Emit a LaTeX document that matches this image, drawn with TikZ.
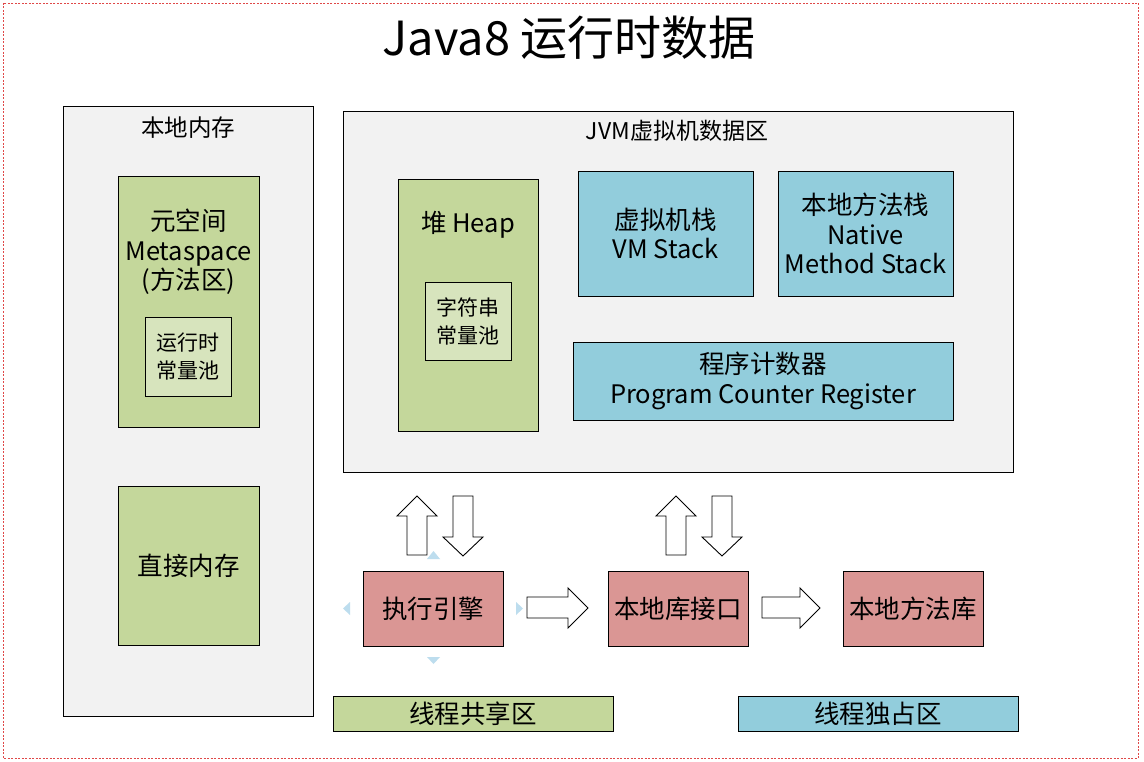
\documentclass[tikz,border=0pt]{standalone}
\usepackage{fontspec}
\setmainfont{Noto Sans CJK SC}
\definecolor{gbox}{HTML}{C4D79B}
\definecolor{gin}{HTML}{D7E4BD}
\definecolor{bbox}{HTML}{92CDDC}
\definecolor{rbox}{HTML}{DA9694}
\definecolor{area}{HTML}{F2F2F2}
\definecolor{frame}{HTML}{E04848}
\definecolor{handle}{HTML}{BDDDEE}
\tikzset{
  box/.style={draw=black, line width=0.9pt, inner sep=0pt, align=center},
  areabox/.style={box, fill=area},
  greenbox/.style={box, fill=gbox},
  innerbox/.style={box, fill=gin, font=\fontsize{21}{28}\selectfont},
  bluebox/.style={box, fill=bbox, font=\fontsize{25.5}{29.5}\selectfont},
  redbox/.style={box, fill=rbox, font=\fontsize{25.5}{29.5}\selectfont},
  lbl/.style={inner sep=0pt, align=center},
  blockarrow/.style={draw=black, line width=0.9pt, fill=white},
  handletri/.style={fill=handle, draw=none}
}
\begin{document}
\begin{tikzpicture}[x=1pt,y=-1pt]
\useasboundingbox (0,0) rectangle (1144,762);
\fill[white] (0,0) rectangle (1144,762);
\draw[frame, dashed, line width=0.7pt, dash pattern=on 2pt off 1.5pt] (3,3) rectangle (1138,758);

\node[lbl, font=\fontsize{47}{50}\selectfont] (title) at (569,38) {Java8 运行时数据};

% native memory
\node[areabox, minimum width=250, minimum height=610] (mem) at (188,411) {};
\node[lbl, font=\fontsize{23.5}{26}\selectfont] (memlbl) at (188,128) {本地内存};
\node[greenbox, minimum width=141, minimum height=251] (meta) at (188.5,301.5) {};
\node[lbl, font=\fontsize{25.5}{29.5}\selectfont] (metalbl) at (188.5,252) {元空间\\Metaspace\\(方法区)};
\node[innerbox, minimum width=86, minimum height=79] (rcp) at (188,356.5) {运行时\\常量池};
\node[greenbox, minimum width=141, minimum height=159, font=\fontsize{25.5}{29.5}\selectfont] (direct) at (188.5,565.5) {直接内存};

% JVM area
\node[areabox, minimum width=670, minimum height=361] (jvm) at (678,291.5) {};
\node[lbl, font=\fontsize{23}{26}\selectfont] (jvmlbl) at (677,131) {JVM虚拟机数据区};
\node[greenbox, minimum width=140, minimum height=252] (heap) at (468,305) {};
\node[lbl, font=\fontsize{25.5}{29.5}\selectfont] (heaplbl) at (468,225) {堆 Heap};
\node[innerbox, minimum width=86, minimum height=78] (scp) at (468,321) {字符串\\常量池};
\node[bluebox, minimum width=175, minimum height=125] (vms) at (665.5,233.5) {虚拟机栈\\VM Stack};
\node[bluebox, minimum width=175, minimum height=125] (nms) at (865.5,233.5) {本地方法栈\\Native\\Method Stack};
\node[bluebox, minimum width=380, minimum height=78] (pc) at (763,381) {程序计数器\\Program Counter Register};

% execution
\node[redbox, minimum width=140, minimum height=75] (exe) at (433,608.5) {执行引擎};
\node[redbox, minimum width=140, minimum height=75] (nli) at (678,608.5) {本地库接口};
\node[redbox, minimum width=140, minimum height=75] (nml) at (913,608.5) {本地方法库};

% legend
\node[greenbox, minimum width=280, minimum height=35, font=\fontsize{25.5}{29.5}\selectfont] (share) at (473,713.5) {线程共享区};
\node[bluebox, minimum width=280, minimum height=35] (excl) at (878,713.5) {线程独占区};

% block arrows between JVM area and exe / nli
\draw[blockarrow] (407,555)--(407,516)--(397,516)--(417,496)--(437,516)--(427,516)--(427,555)--cycle;
\draw[blockarrow] (453,496)--(473,496)--(473,537)--(483,537)--(463,556)--(443,537)--(453,537)--cycle;
\draw[blockarrow] (666,555)--(666,516)--(656,516)--(676,496)--(696,516)--(686,516)--(686,555)--cycle;
\draw[blockarrow] (712,496)--(732,496)--(732,537)--(742,537)--(722,556)--(702,537)--(712,537)--cycle;
% horizontal block arrows
\draw[blockarrow] (527,597)--(568,597)--(568,588)--(588,608)--(568,628)--(568,618)--(527,618)--cycle;
\draw[blockarrow] (762,597)--(800,597)--(800,588)--(820,608)--(800,628)--(800,618)--(762,618)--cycle;

% selection handles around exe
\fill[handletri] (427,559)--(440,559)--(433.5,551)--cycle;
\fill[handletri] (427,657)--(440,657)--(433.5,664)--cycle;
\fill[handletri] (350,602)--(350,615)--(343,608.5)--cycle;
\fill[handletri] (516,602)--(516,615)--(523,608.5)--cycle;
\end{tikzpicture}
\end{document}
